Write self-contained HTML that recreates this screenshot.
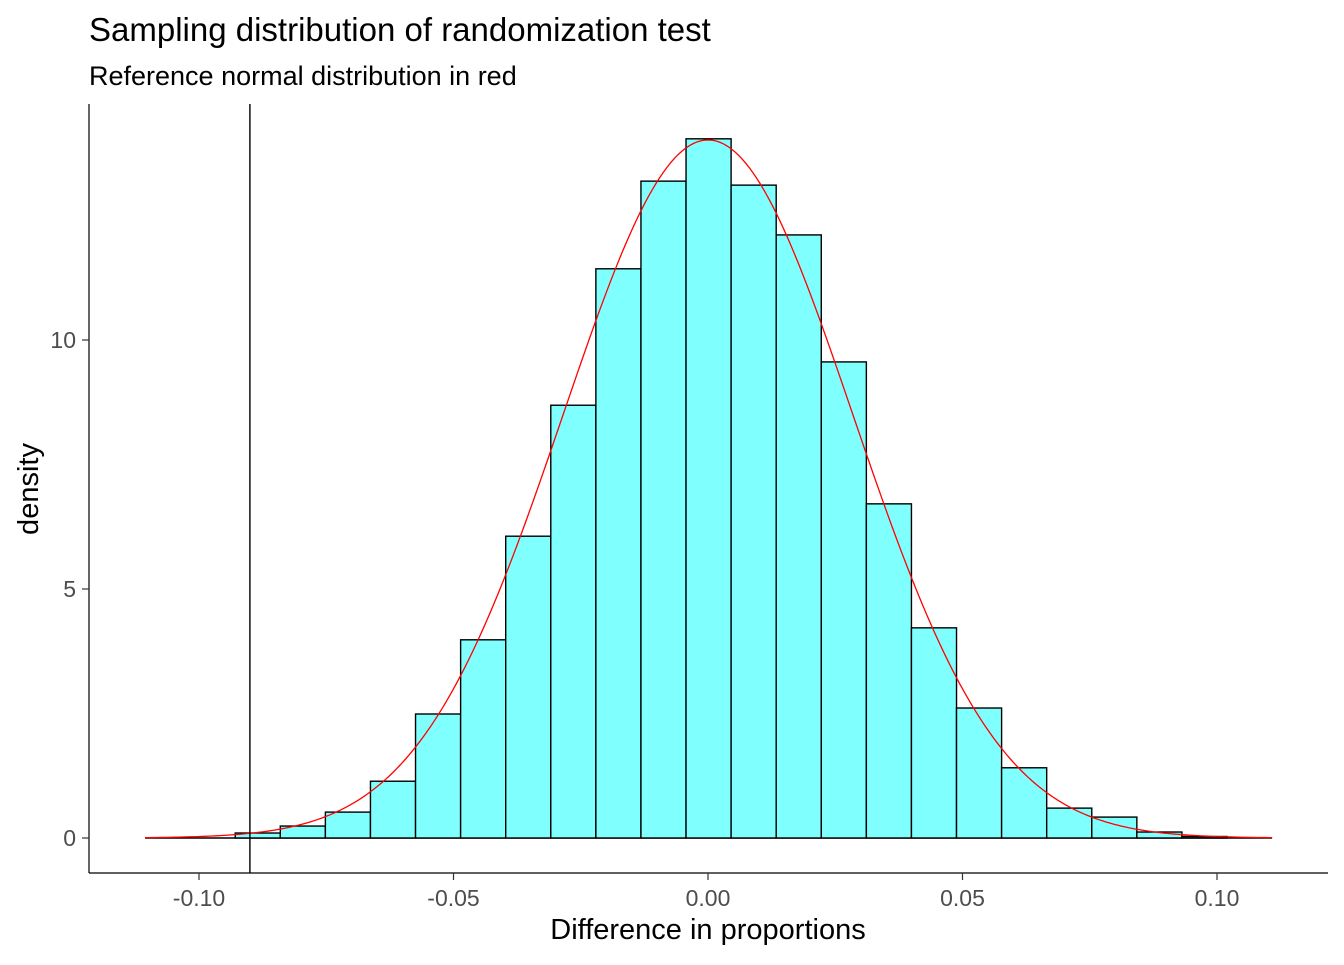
<!DOCTYPE html>
<html><head><meta charset="utf-8"><style>
body{margin:0;background:#fff;font-family:"Liberation Sans",Arial,sans-serif}
svg text{font-family:"Liberation Sans",Arial,sans-serif}
</style></head><body>
<svg id="chart" width="1344" height="960" viewBox="0 0 1344 960">
<rect width="1344" height="960" fill="#fff"/>
<text x="89" y="41" font-size="33" fill="#000">Sampling distribution of randomization test</text>
<text x="89" y="85" font-size="27" fill="#000">Reference normal distribution in red</text>
<line id="baseline" stroke="#000" stroke-width="1.4"/>
<g id="bars"></g>
<path id="curve" fill="none" stroke="#ff0000" stroke-width="1.3"/>
<line id="vline" stroke="#000" stroke-width="1.4"/>
<line x1="89" y1="104" x2="89" y2="873" stroke="#000" stroke-width="1.2"/>
<line x1="89" y1="873" x2="1328" y2="873" stroke="#000" stroke-width="1.2"/>
<g id="xticks"></g>
<g id="yticks"></g>
<text x="708" y="939" font-size="29" text-anchor="middle" fill="#000">Difference in proportions</text>
<text transform="translate(38,489) rotate(-90)" font-size="29" text-anchor="middle" fill="#000">density</text>
</svg>
<script>
const binStart = -0.1106;
const binWidth = 0.008857;
const densities = [0,0,0.1,0.24,0.52,1.14,2.49,3.98,6.06,8.69,11.43,13.19,14.04,13.11,12.11,9.56,6.71,4.22,2.61,1.41,0.60,0.42,0.12,0.03,0];
const normMean = 0.0;
const normSd = 0.02846;
const observedDiff = -0.09;
const xTicks = [-0.10,-0.05,0.00,0.05,0.10];
const xTickLabels = ["-0.10","-0.05","0.00","0.05","0.10"];
const yTicks = [0,5,10];
const yTickLabels = ["0","5","10"];

const xs = v => 708 + v*5090;
const ys = v => 838 - v*49.8;
const NS="http://www.w3.org/2000/svg";
const lo=binStart, hi=binStart+densities.length*binWidth;
const bl=document.getElementById('baseline');
bl.setAttribute('x1',xs(lo));bl.setAttribute('x2',xs(hi));bl.setAttribute('y1',ys(0));bl.setAttribute('y2',ys(0));
const bars=document.getElementById('bars');
densities.forEach((d,i)=>{
  if(d<=0) return;
  const x0=xs(binStart+i*binWidth), x1=xs(binStart+(i+1)*binWidth);
  const r=document.createElementNS(NS,'rect');
  
  
  r.setAttribute('x',x0);r.setAttribute('width',x1-x0);
  r.setAttribute('y',ys(d));r.setAttribute('height',ys(0)-ys(d));
  r.setAttribute('fill','#80ffff');r.setAttribute('stroke','#000');r.setAttribute('stroke-width','1.4');
  bars.appendChild(r);
});
let p='';
for(let k=0;k<=300;k++){
  const v=lo+(hi-lo)*k/300;
  const dn=Math.exp(-0.5*((v-normMean)/normSd)**2)/(normSd*Math.sqrt(2*Math.PI));
  p+=(k?'L':'M')+xs(v).toFixed(2)+','+ys(dn).toFixed(2);
}
document.getElementById('curve').setAttribute('d',p);
const vl=document.getElementById('vline');
vl.setAttribute('x1',xs(observedDiff));vl.setAttribute('x2',xs(observedDiff));
vl.setAttribute('y1',104);vl.setAttribute('y2',873);
const xt=document.getElementById('xticks');
xTicks.forEach((t,i)=>{
  const l=document.createElementNS(NS,'line');
  
  
  l.setAttribute('x1',xs(t));l.setAttribute('x2',xs(t));l.setAttribute('y1',873);l.setAttribute('y2',880);
  l.setAttribute('stroke','#333');l.setAttribute('stroke-width','1.2');xt.appendChild(l);
  const tx=document.createElementNS(NS,'text');
  
  
  tx.setAttribute('x',xs(t));tx.setAttribute('y',906);tx.setAttribute('text-anchor','middle');
  tx.setAttribute('font-size','23');tx.setAttribute('fill','#4d4d4d');tx.textContent=xTickLabels[i];xt.appendChild(tx);
});
const yt=document.getElementById('yticks');
yTicks.forEach((t,i)=>{
  const l=document.createElementNS(NS,'line');
  
  
  l.setAttribute('x1',82);l.setAttribute('x2',89);l.setAttribute('y1',ys(t));l.setAttribute('y2',ys(t));
  l.setAttribute('stroke','#333');l.setAttribute('stroke-width','1.2');yt.appendChild(l);
  const tx=document.createElementNS(NS,'text');
  
  
  tx.setAttribute('x',76);tx.setAttribute('y',ys(t)+8);tx.setAttribute('text-anchor','end');
  tx.setAttribute('font-size','23');tx.setAttribute('fill','#4d4d4d');tx.textContent=yTickLabels[i];yt.appendChild(tx);
});
</script>
</body></html>
